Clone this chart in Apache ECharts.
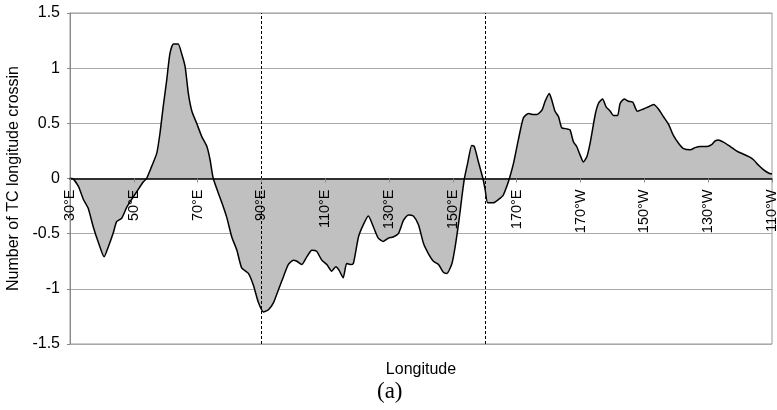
<!DOCTYPE html>
<html>
<head>
<meta charset="utf-8">
<script src="https://cdn.jsdelivr.net/npm/echarts@6/dist/echarts.min.js"></script>
<style>html,body{margin:0;padding:0;background:#fff;}#c{width:777px;height:410px;}</style>
</head>
<body>
<div id="c"></div>
<script>
const lons = [30, 30.7, 32.6, 34.2, 35.7, 37.3, 38.9, 40.7, 42.0, 43.6, 44.6, 46.2, 47.8, 49.3, 50.9, 53.0, 54.0, 55.6, 57.2, 58.2, 59.2, 60.3, 61.3, 62.4, 63.9, 65.0, 66.1, 67.1, 68.2, 69.7, 71.3, 72.9, 73.9, 74.9, 77.6, 79.1, 80.7, 82.3, 83.8, 85.9, 87.5, 89.0, 90.6, 92.2, 93.7, 95.3, 96.9, 98.4, 100.0, 101.1, 102.6, 104.2, 105.8, 107.3, 108.9, 110.5, 112.0, 113.3, 114.3, 115.6, 116.7, 117.8, 118.8, 120.4, 121.9, 123.5, 125.1, 126.6, 128.2, 129.8, 131.3, 132.9, 134.5, 136.0, 137.6, 139.2, 140.8, 142.3, 143.9, 145.5, 147.0, 148.1, 149.7, 150.7, 151.9, 152.8, 153.6, 154.7, 155.9, 156.7, 158.0, 159.4, 160.1, 160.9, 162.7, 164.3, 165.8, 166.9, 167.7, 169.0, 170.5, 172.1, 173.7, 175.2, 176.3, 177.9, 178.9, 180.2, 181.0, 182.0, 183.1, 184.1, 185.7, 186.7, 187.8, 188.8, 189.9, 190.9, 192.0, 193.0, 194.6, 195.6, 196.9, 198.0, 199.3, 200.3, 201.6, 202.4, 203.7, 205.0, 206.4, 207.8, 209.7, 211.3, 212.9, 214.4, 216.0, 217.6, 219.1, 220.7, 222.3, 224.4, 225.9, 227.5, 229.6, 231.2, 232.2, 233.2, 234.8, 236.4, 237.9, 239.5, 241.1, 242.6, 244.2, 245.8, 247.3, 248.9, 250];
const values = [0, 0, -0.07, -0.19, -0.27, -0.44, -0.58, -0.71, -0.62, -0.49, -0.39, -0.36, -0.26, -0.19, -0.12, -0.03, 0, 0.11, 0.23, 0.41, 0.65, 0.89, 1.13, 1.22, 1.22, 1.13, 1.01, 0.77, 0.61, 0.50, 0.38, 0.29, 0.17, 0, -0.22, -0.35, -0.53, -0.65, -0.81, -0.86, -0.97, -1.12, -1.21, -1.19, -1.13, -1.01, -0.89, -0.78, -0.74, -0.75, -0.78, -0.71, -0.65, -0.66, -0.74, -0.78, -0.84, -0.80, -0.83, -0.90, -0.77, -0.78, -0.77, -0.53, -0.42, -0.34, -0.44, -0.54, -0.57, -0.54, -0.53, -0.50, -0.38, -0.33, -0.34, -0.42, -0.59, -0.68, -0.75, -0.78, -0.85, -0.86, -0.77, -0.62, -0.38, -0.17, 0, 0.15, 0.30, 0.29, 0.15, 0, -0.10, -0.22, -0.22, -0.19, -0.15, -0.07, 0, 0.14, 0.35, 0.55, 0.59, 0.58, 0.58, 0.62, 0.70, 0.77, 0.71, 0.61, 0.56, 0.46, 0.45, 0.44, 0.33, 0.29, 0.21, 0.15, 0.20, 0.32, 0.58, 0.68, 0.72, 0.65, 0.61, 0.57, 0.57, 0.68, 0.72, 0.70, 0.69, 0.61, 0.63, 0.65, 0.67, 0.63, 0.56, 0.49, 0.39, 0.32, 0.27, 0.26, 0.28, 0.29, 0.29, 0.31, 0.34, 0.35, 0.33, 0.30, 0.27, 0.24, 0.22, 0.20, 0.17, 0.12, 0.08, 0.05, 0.04];
const tickLabels = ['30°E', '50°E', '70°E', '90°E', '110°E', '130°E', '150°E', '170°E', '170°W', '150°W', '130°W', '110°W'];
const dividers = [90, 160];

const chart = echarts.init(document.getElementById('c'), null, {renderer: 'canvas'});
const font = 'Liberation Sans';
chart.setOption({
  animation: false,
  backgroundColor: '#fff',
  grid: {left: 70, right: 5, top: 13, bottom: 66, show: true, borderColor: '#999', borderWidth: 1,
    backgroundColor: 'transparent', containLabel: false, outerBoundsMode: 'none'},
  xAxis: {
    type: 'value', min: 30, max: 250, interval: 20, z: 5,
    position: 'bottom', offset: -165.5,
    name: 'Longitude', nameLocation: 'middle', nameGap: 183,
    nameTextStyle: {fontFamily: font, fontSize: 16, color: '#000'},
    axisLine: {onZero: false, lineStyle: {color: '#000', width: 1.5}},
    axisTick: {show: true, length: 4, lineStyle: {color: '#888'}},
    axisLabel: {rotate: 90, margin: 11, fontFamily: font, fontSize: 14.5, color: '#000',
      formatter: function (v) { return tickLabels[Math.round((v - 30) / 20)]; }},
    splitLine: {show: false}
  },
  yAxis: {
    type: 'value', min: -1.5, max: 1.5, interval: 0.5,
    name: 'Number of TC longitude crossin', nameLocation: 'middle', nameGap: 47,
    nameTextStyle: {fontFamily: font, fontSize: 16, color: '#000'},
    axisLine: {show: true, onZero: false, lineStyle: {color: '#888', width: 1}},
    axisTick: {show: true, length: 3, lineStyle: {color: '#888'}},
    axisLabel: {margin: 10, fontFamily: font, fontSize: 16, color: '#000'},
    splitLine: {show: true, lineStyle: {color: '#aaa', width: 1}}
  },
  series: [{
    type: 'line',
    data: lons.map((x, i) => [x, values[i]]),
    showSymbol: false,
    smooth: 0.2,
    lineStyle: {color: '#000', width: 1.5},
    areaStyle: {color: '#c0c0c0', opacity: 1},
    markLine: {
      silent: true, symbol: 'none', label: {show: false},
      lineStyle: {color: '#000', type: [3, 2], width: 1},
      data: dividers.map(d => ({xAxis: d}))
    }
  }],
  graphic: [{
    type: 'text', left: 377, top: 380,
    style: {text: '(a)', font: '23px "Liberation Serif"', fill: '#000'}
  }]
});
</script>
</body>
</html>
